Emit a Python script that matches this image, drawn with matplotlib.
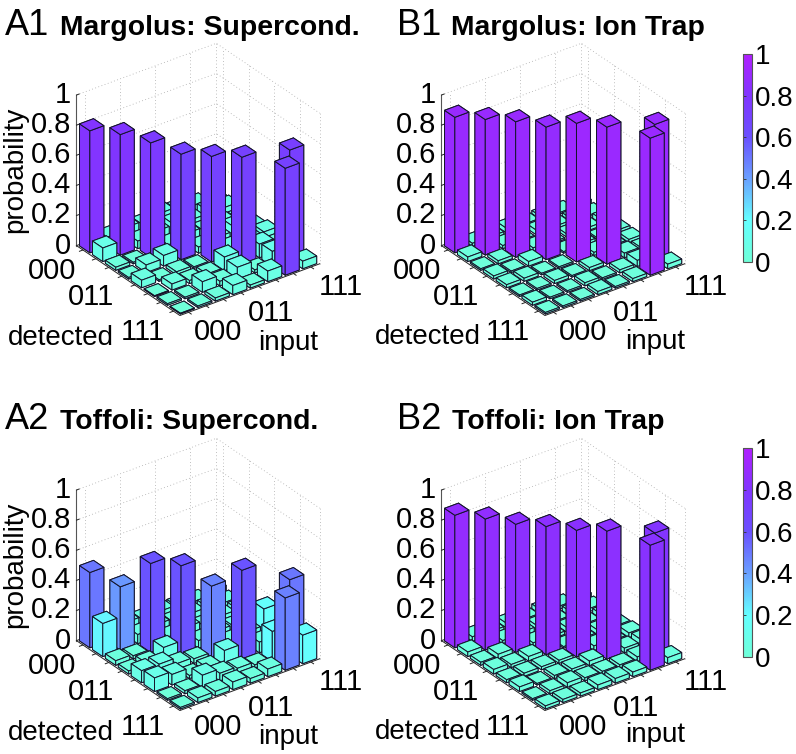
#!/usr/bin/python3

import matplotlib
matplotlib.use('Agg')
import matplotlib.pyplot as plt
from matplotlib.cm import ScalarMappable
from matplotlib.colors import LinearSegmentedColormap, Normalize
from mpl_toolkits.mplot3d import proj3d
import numpy as np

plt.rcParams['font.family'] = ['Liberation Sans', 'DejaVu Sans']

W, H = 796, 754

# rows: detected 000..111, columns: input 000..111
margolus_sc = [
  [.81, .06, .08, .06, .09, .07, .06, .05],
  [.09, .80, .05, .07, .08, .06, .08, .06],
  [.02, .01, .76, .04, .07, .05, .06, .04],
  [.01, .05, .07, .70, .04, .06, .09, .05],
  [.05, .01, .02, .01, .70, .05, .07, .07],
  [.005, .04, .02, .02, .09, .71, .09, .05],
  [.01, .01, .07, .03, .08, .02, .10, .73],
  [.005, .01, .02, .06, .02, .07, .71, .05],
]
toffoli_sc = [
  [.50, .05, .08, .06, .07, .06, .05, .08],
  [.22, .42, .06, .08, .06, .07, .07, .06],
  [.03, .02, .59, .06, .08, .05, .07, .07],
  [.02, .03, .09, .59, .05, .07, .06, .09],
  [.08, .08, .04, .03, .47, .06, .08, .19],
  [.09, .07, .02, .03, .10, .59, .07, .09],
  [.01, .02, .08, .05, .04, .02, .20, .50],
  [.01, .03, .03, .05, .03, .05, .48, .19],
]
margolus_ion = [
  [.90, .02, .02, .03, .02, .02, .01, .02],
  [.03, .90, .02, .01, .03, .02, .02, .01],
  [.01, .02, .90, .02, .01, .02, .02, .03],
  [.02, .01, .03, .88, .01, .02, .01, .02],
  [.02, .02, .01, .01, .92, .02, .02, .02],
  [.01, .01, .02, .01, .02, .91, .03, .02],
  [.02, .01, .01, .02, .01, .02, .04, .90],
  [.01, .01, .01, .02, .01, .02, .91, .03],
]
toffoli_ion = [
  [.88, .03, .02, .03, .02, .03, .02, .03],
  [.03, .87, .02, .03, .03, .02, .03, .02],
  [.02, .03, .85, .02, .02, .03, .02, .03],
  [.03, .02, .03, .85, .01, .02, .03, .02],
  [.02, .02, .02, .02, .84, .03, .02, .03],
  [.03, .01, .02, .02, .03, .85, .03, .04],
  [.01, .02, .03, .02, .02, .02, .03, .81],
  [.02, .02, .02, .03, .03, .03, .83, .04],
]

panel_letters = ['A1', 'B1', 'A2', 'B2']
panel_titles = ['Margolus: Supercond.', 'Margolus: Ion Trap',
                'Toffoli: Supercond.', 'Toffoli: Ion Trap']
panel_data = [margolus_sc, margolus_ion, toffoli_sc, toffoli_ion]

state_ticks = [0, 3, 7]
state_labels = ['000', '011', '111']
z_ticks = [0, 0.2, 0.4, 0.6, 0.8, 1]
z_labels = ['0', '0.2', '0.4', '0.6', '0.8', '1']

cmap = LinearSegmentedColormap.from_list('bars', [
  (0.0, '#6FFFD8'), (0.2, '#64FFFF'), (0.4, '#6AA0FF'),
  (0.6, '#6A50FF'), (0.8, '#8035FF'), (1.0, '#B020FF')])
norm = Normalize(0, 1)

fig = plt.figure(figsize=(W / 100, H / 100), dpi=100)


def px_text(x, y, s, **kw):
  return fig.text(x / W, 1 - y / H, s, **kw)


def draw_box(ax):
  grid = dict(color='#aaaaaa', lw=0.6, ls=(0, (1, 3)), zorder=0)
  for t in [0.5, 2.5, 4.5, 6.5, 8]:
    ax.plot([t, t], [8, 8], [0, 1], **grid)
  for t in [0, 1.5, 3.5, 5.5, 7.5]:
    ax.plot([8, 8], [t, t], [0, 1], **grid)
  for z in z_ticks:
    ax.plot([0, 8, 8], [8, 8, 0], [z, z, z], **grid)

  line = dict(color='#222222', lw=0.7, zorder=1)
  ax.plot([0, 0, 8], [8, 0, 0], [0, 0, 0], **line)
  ax.plot([0, 0], [8, 8], [0, 1], color='#555555', lw=0.8, zorder=1)
  for t in np.arange(8) + 0.5:
    ax.plot([t, t], [0, -0.2], [0, 0], **line)
    ax.plot([0, -0.2], [t, t], [0, 0], **line)
  for z in z_ticks:
    ax.plot([0, 0.15], [8, 8], [z, z], **line)


def draw_bars(ax, data):
  values = np.array(data)
  order = 2
  # far to near, so each bar paints over the ones behind it
  for i in range(7, -1, -1):
    for y in range(7, -1, -1):
      v = max(values[7 - y, i], 0.004)
      ax.bar3d(i + 0.1, y + 0.1, 0, 0.8, 0.8, v, color=cmap(norm(v)),
               edgecolor='#14142a', linewidth=0.7, shade=False, zorder=order)
      order += 1


def label3d(ax, x, y, z, s, **kw):
  # projected by hand so the text keeps its real place on the flat axes
  x2, y2, _ = proj3d.proj_transform(x, y, z, ax.get_proj())
  ax.text2D(x2, y2, s, transform=ax.transData, fontsize=21, va='center', zorder=200, **kw)


def draw_labels(ax):
  for t, s in zip(state_ticks, state_labels):
    label3d(ax, t + 0.5, -2.3, 0, s, ha='center')
    label3d(ax, -1.76, 7.5 - t, -0.065, s, ha='center')
  for z, s in zip(z_ticks, z_labels):
    label3d(ax, -0.2, 8.15, z, s, ha='right')


def panel(cx, cy, size, data):
  ax = fig.add_axes([(cx - size / 2) / W, 1 - (cy + size / 2) / H, size / W, size / H],
                    projection='3d', computed_zorder=False)
  ax.patch.set_visible(False)
  ax.set_proj_type('ortho')
  ax.view_init(elev=30, azim=-126.5)
  ax.set_box_aspect((1, 1, 1), zoom=0.86)
  ax.set_xlim(0, 8, view_margin=0)
  ax.set_ylim(0, 8, view_margin=0)
  ax.set_zlim(0, 1, view_margin=0)
  ax.set_axis_off()
  draw_box(ax)
  draw_bars(ax, data)
  draw_labels(ax)
  return ax


centers = [(193.5, 184), (558.5, 184), (193.5, 579), (558.5, 579)]
for (cx, cy), d in zip(centers, panel_data):
  panel(cx, cy, 340, d)

letter_pos = [(5, 35), (397, 35), (5, 429), (397, 429)]
title_pos = [(60, 35), (451, 35), (60, 429), (452, 429)]
for (x, y), s in zip(letter_pos, panel_letters):
  px_text(x, y, s, fontsize=26, ha='left', va='baseline')
for (x, y), s in zip(title_pos, panel_titles):
  px_text(x, y, s, fontsize=20.4, fontweight='bold', ha='left', va='baseline')

for y in [170, 565]:
  px_text(15, y, 'probability', fontsize=20, rotation=90, ha='center', va='center')
for x, y in [(8, 338), (375, 337), (8, 733), (375, 732)]:
  px_text(x, y, 'detected', fontsize=20, ha='left', va='center')
for x, y in [(258, 343), (625, 342), (258, 737), (625, 735)]:
  px_text(x, y, 'input', fontsize=20, ha='left', va='center')

for top, bottom in [(54, 262), (448, 657)]:
  cax = fig.add_axes([743 / W, 1 - bottom / H, 9 / W, (bottom - top) / H])
  cb = fig.colorbar(ScalarMappable(norm=norm, cmap=cmap), cax=cax)
  cb.set_ticks(z_ticks, labels=z_labels)
  cb.ax.tick_params(labelsize=20, direction='in', length=2, width=0.6, left=True,
                    right=False, pad=2, color='#333333')
  cb.outline.set_edgecolor('#555555')
  cb.outline.set_linewidth(0.8)

fig.savefig('out.png', dpi=100)
